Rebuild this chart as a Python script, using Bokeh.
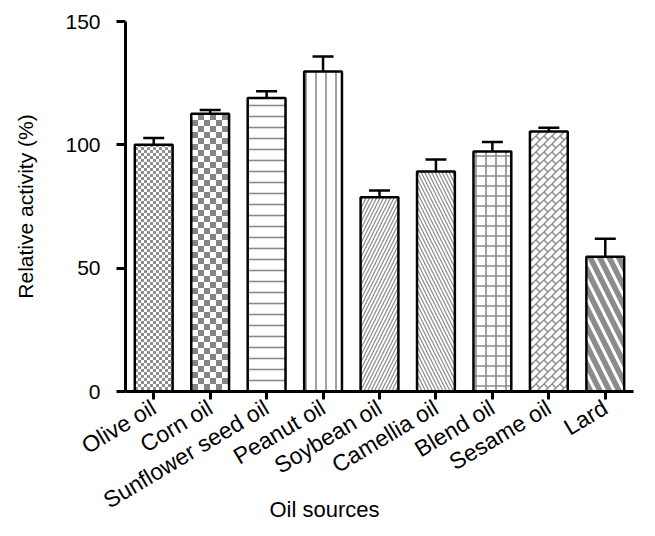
import base64
from bokeh.plotting import figure
from bokeh.models import (FactorRange, Range1d, FixedTicker, Whisker, TeeHead,
                          ColumnDataSource, ImageURLTexture)
from bokeh.embed import file_html
from bokeh.resources import INLINE

# ---- data ----
oils = ["Olive oil", "Corn oil", "Sunflower seed oil", "Peanut oil", "Soybean oil",
        "Camellia oil", "Blend oil", "Sesame oil", "Lard"]
activity = [100.0, 112.6, 119.0, 129.7, 78.8, 89.2, 97.3, 105.4, 54.6]
errors = [2.8, 1.5, 2.7, 6.1, 2.7, 4.9, 3.8, 1.5, 7.3]
y_ticks = [0, 50, 100, 150]

# ---- styles ----
hatch_patterns = ["chk_s", "chk_l", "-", "|", "/", "\\", "+", "brick", "\\"]
hatch_scales = [6, 12, 11, 10, 7, 7, 10, 16, 19]
hatch_weights = [1, 1, 1.6, 1.6, 1.2, 1.2, 1.6, 1.4, 5.5]
hatch_colors = ["#8a8a8a"] * 8 + ["#8c8c8c"]


def svg_uri(body, w, h):
    svg = (f'<svg xmlns="http://www.w3.org/2000/svg" width="{w}" height="{h}" '
           f'viewBox="0 0 {w} {h}">{body}</svg>')
    return "data:image/svg+xml;base64," + base64.b64encode(svg.encode()).decode()


def checker(s, col):
    w = 2 * s
    body = (f'<rect width="{w}" height="{w}" fill="white"/>'
            f'<rect x="0" y="0" width="{s}" height="{s}" fill="{col}"/>'
            f'<rect x="{s}" y="{s}" width="{s}" height="{s}" fill="{col}"/>')
    return svg_uri(body, w, w)


def brick(col):
    T = 16
    lines = []
    for c in range(-32, 65, 8):
        lines.append(f'<line x1="{c+20}" y1="-20" x2="{c-40}" y2="40" />')
    for k in range(-4, 8):
        c0 = 8 * k
        off = 0 if k % 2 == 0 else 8
        for d in range(-48, 49, 16):
            dd = d + off
            x1, y1 = (c0 + dd) / 2, (c0 - dd) / 2
            x2, y2 = (c0 + 8 + dd) / 2, (c0 + 8 - dd) / 2
            lines.append(f'<line x1="{x1}" y1="{y1}" x2="{x2}" y2="{y2}" />')
    body = (f'<rect width="{T}" height="{T}" fill="white"/>'
            f'<g stroke="{col}" stroke-width="1.4">' + "".join(lines) + '</g>')
    return svg_uri(body, T, T)


extra = {
    "chk_s": ImageURLTexture(url=checker(3, "#8f8f8f")),
    "chk_l": ImageURLTexture(url=checker(6, "#858585")),
    "brick": ImageURLTexture(url=brick("#8a8a8a")),
}

upper = [a + e for a, e in zip(activity, errors)]
src = ColumnDataSource(dict(x=oils, top=activity, upper=upper,
                            hp=hatch_patterns, hs=hatch_scales,
                            hw=hatch_weights, hc=hatch_colors))

p = figure(width=655, height=536, x_range=FactorRange(factors=oils),
           y_range=Range1d(0, 150), output_backend="svg", toolbar_location=None,
           min_border_left=125, min_border_top=21, min_border_right=22,
           min_border_bottom=145)
p.outline_line_color = None
p.xgrid.grid_line_color = None
p.ygrid.grid_line_color = None

p.vbar(x="x", top="top", width=0.67, source=src, fill_color="white",
       line_color="black", line_width=2.5, hatch_pattern="hp", hatch_scale="hs",
       hatch_weight="hw", hatch_color="hc", hatch_extra=extra)

wh = Whisker(base="x", upper="upper", lower="top", source=src, dimension="height",
             line_width=2.5, line_color="black", lower_head=None,
             upper_head=TeeHead(size=21, line_width=2.5, line_color="black"))
p.add_layout(wh)

font = "Liberation Sans"
for ax in (p.xaxis[0], p.yaxis[0]):
    ax.axis_line_width = 3
    ax.major_tick_line_width = 3
    ax.major_tick_in = 0
    ax.minor_tick_line_color = None
    ax.major_label_text_font = font
    ax.major_label_text_font_size = "21px"
    ax.major_label_text_color = "black"
    ax.axis_line_color = "black"
    ax.major_tick_line_color = "black"
    ax.axis_label_text_font = font
    ax.axis_label_text_font_style = "normal"
    ax.axis_label_text_color = "black"

p.yaxis.ticker = FixedTicker(ticks=y_ticks)
p.yaxis.major_tick_out = 9
p.yaxis.major_label_standoff = 16
p.yaxis.axis_label = "Relative activity (%)"
p.yaxis.axis_label_standoff = 25
p.yaxis.axis_label_text_font_size = "21px"

p.xaxis.major_tick_out = 8
p.xaxis.major_label_orientation = 0.54
p.xaxis.major_label_standoff = 6
p.xaxis.major_label_text_font_size = "23px"
# trailing no-break spaces shift the centred label left, as in the reference
p.xaxis.axis_label = "Oil sources" + "\u00a0" * 18
p.xaxis.axis_label_text_font_size = "22px"
p.xaxis.axis_label_standoff = -30

open("out.html", "w").write(file_html(p, INLINE))
